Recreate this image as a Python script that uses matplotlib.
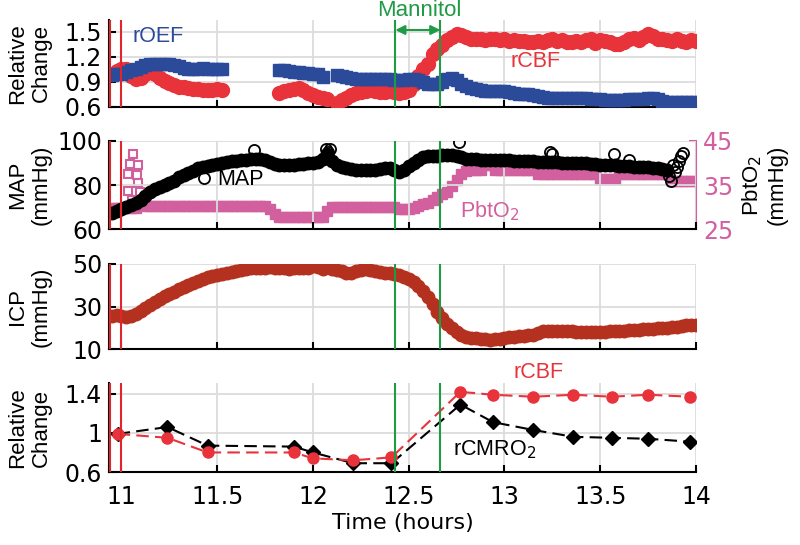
import numpy as np
import matplotlib
matplotlib.use('Agg')
import matplotlib.pyplot as plt

# sample times (hours) for the monitored signals, every 0.025 h
t = np.linspace(10.95, 14.0, 123)
nan = np.nan

roef = [0.98, 0.99, 1.00, 1.02, 1.04, 1.06, 1.08, 1.10, 1.12, 1.12,
        1.11, 1.12, 1.11, 1.10, 1.09, 1.07, 1.06, 1.05, 1.06, 1.07,
        1.06, 1.06, 1.05, 1.05, nan, nan, nan, nan, nan, nan,
        nan, nan, nan, nan, nan, 1.04, 1.04, 1.03, 1.02, 1.02,
        1.01, 1.01, 1.00, 0.99, 0.96, nan, nan, 0.98, 0.97, 0.96,
        0.95, 0.94, 0.93, 0.93, 0.93, 0.93, 0.93, 0.93, 0.93, 0.92,
        0.92, 0.92, 0.93, 0.93, 0.92, 0.90, 0.88, 0.87, 0.87, 0.90,
        0.93, 0.95, 0.92, 0.88, 0.85, 0.83, 0.81, 0.80, 0.79, 0.79,
        0.79, 0.79, 0.79, 0.78, 0.77, 0.76, 0.76, 0.75, 0.74, 0.73,
        0.72, 0.71, 0.71, 0.71, 0.71, 0.71, 0.71, 0.71, 0.71, 0.71,
        0.70, 0.69, 0.69, 0.68, 0.68, 0.68, 0.68, 0.68, 0.69, 0.69,
        0.69, 0.70, 0.71, 0.71, 0.70, 0.67, 0.66, 0.66, 0.66, 0.66,
        0.66, 0.66, 0.66]

rcbf = [0.99, 1.03, 1.06, 1.05, 0.97, 0.93, 0.95, 0.99, 1.02, 0.99,
        0.95, 0.91, 0.89, 0.86, 0.84, 0.84, 0.83, 0.82, 0.82, 0.80,
        0.80, 0.80, 0.81, 0.80, nan, nan, nan, nan, nan, nan,
        nan, nan, nan, nan, nan, 0.77, 0.79, 0.80, 0.82, 0.83,
        0.80, 0.77, 0.74, 0.72, 0.71, 0.70, nan, 0.65, 0.68, 0.71,
        0.74, 0.77, 0.78, 0.79, 0.80, 0.79, 0.78, 0.78, 0.79, 0.78,
        0.77, 0.78, 0.80, 0.88, 0.97, 1.05, 1.12, 1.24, 1.30, 1.34,
        1.40, 1.44, 1.47, 1.46, 1.44, 1.42, 1.41, 1.42, 1.40, 1.41,
        1.41, 1.40, 1.41, 1.39, 1.40, 1.39, 1.39, 1.38, 1.38, 1.39,
        1.38, 1.40, 1.41, 1.39, 1.40, 1.38, 1.38, 1.39, 1.38, 1.40,
        1.41, 1.37, 1.40, 1.39, 1.38, 1.36, 1.36, 1.38, 1.41, 1.43,
        1.40, 1.44, 1.47, 1.45, 1.41, 1.41, 1.40, 1.39, 1.41, 1.39,
        1.38, 1.40, 1.39]

map_mmhg = [67.5, 68, 69, 70, 71, 72, 73, 75, 77, 78,
            79, 80, 81, 82, 83.5, 84.5, 85.5, 86.5, 87.5, 88,
            88.5, 89, 89.5, 90, 90.5, 90.8, 91, 91.3, 91.5, 91.8,
            92, 92, 91.5, 90.5, 89.5, 89, 89, 89, 89.2, 89.5,
            89.7, 90, 90.2, 90.5, 92, 94, 91, 89, 88, 87.5,
            87.2, 87, 87, 86.8, 86.8, 87, 87.2, 87.5, 87.7, 87,
            86, 87, 88.5, 90, 91.5, 92.5, 93, 93, 93.2, 93.5,
            93.5, 93.5, 93, 92.5, 92, 92, 91.8, 91.5, 91.5, 91.5,
            91.4, 91.4, 91.3, 91.2, 91, 91, 91, 90.8, 90.7, 90.6,
            90.5, 90.5, 90.5, 90.3, 90.2, 90.2, 90, 90, 90, 89.8,
            89.6, 89.5, 89.3, 89.2, 89, 89, 88.8, 88.6, 88.5, 88.3,
            88.2, 88, 88, 87.8, 87.5, 87.2, 87, nan, nan, nan,
            nan, nan, nan]

# scattered MAP readings
map_out_t = [11.43, 11.69, 12.07, 12.08, 12.09, 12.76, 13.24, 13.25, 13.57, 13.65,
             13.86, 13.87, 13.88, 13.89, 13.90, 13.91, 13.92, 13.93]
map_out_v = [83, 96, 96.5, 95, 96.5, 99.5, 95, 94, 94, 91.5,
             84, 82, 89, 86, 88, 91, 93, 94.5]

pbto2 = [29.8, 29.8, 29.8, 29.8, 29.8, 29.8, 30.5, 30.2, 30.2, 30.2,
         30.2, 30.2, 30.2, 30.2, 30.2, 30.2, 30.2, 30.2, 30.2, 30.2,
         30.2, 30.2, 30.2, 30.2, 30.2, 30.2, 30.2, 30.2, 30.2, 30.2,
         30.2, 30.2, 30.2, 29.5, 28.5, 27.7, 27.7, 27.7, 27.7, 27.7,
         27.7, 27.7, 27.7, 27.7, 27.7, 29.0, 30.0, 30.0, 30.0, 30.0,
         30.0, 30.0, 30.0, 30.0, 30.0, 30.0, 30.0, 30.0, 30.0, 30.0,
         29.5, 29.5, 29.5, 29.8, 30.2, 30.6, 31.0, 31.7, 32.3, 32.9,
         33.5, 34.8, 36.2, 37.4, 38.2, 38.4, 38.4, 38.4, 39.5, 39.5,
         38.4, 38.4, 38.4, 38.4, 38.4, 38.4, 38.4, 38.4, 38.4, 37.4,
         37.4, 37.4, 37.4, 37.4, 37.4, 37.4, 37.4, 37.4, 37.4, 37.4,
         37.4, 37.4, 36.4, 36.4, 36.4, 36.4, 37.6, 37.6, 37.6, 37.6,
         37.6, 37.6, 37.6, 37.6, 37.6, 37.6, 37.6, 36.0, 36.0, 36.0,
         36.0, 36.0, 36.0]

# early PbtO2 spike
pb_spike_t = [11.06, 11.045, 11.085, 11.035, 11.08, 11.085, 11.035, 11.095, 11.055]
pb_spike_v = [42.0, 39.8, 39.5, 37.5, 37.3, 35.4, 33.6, 33.4, 31.6]

icp = [25.5, 25.8, 25.5, 25.0, 25.5, 26.5, 27.8, 29.3, 30.7, 32.2,
       33.6, 34.8, 35.8, 37.0, 38.2, 39.3, 40.3, 41.2, 42.2, 43.0,
       43.8, 44.5, 45.0, 45.5, 46.0, 46.3, 46.8, 47.3, 47.7, 48.0,
       48.2, 48.0, 48.2, 48.5, 48.0, 48.3, 48.0, 47.8, 48.0, 48.2,
       48.0, 48.3, 49.0, 48.5, 47.5, 48.8, 47.5, 47.0, 46.5, 46.0,
       45.8, 46.5, 47.0, 47.5, 47.0, 46.5, 46.2, 46.0, 46.0, 45.5,
       45.0, 44.0, 42.8, 41.5, 39.8, 37.5, 34.5, 31.0, 27.5, 24.5,
       22.0, 20.0, 18.0, 16.5, 15.5, 15.0, 15.0, 14.8, 14.5, 14.3,
       14.5, 14.8, 15.2, 15.5, 15.8, 16.0, 16.3, 16.5, 16.7, 17.5,
       18.3, 18.5, 18.5, 18.4, 18.3, 18.4, 18.3, 18.2, 18.2, 18.1,
       18.0, 18.1, 18.0, 18.2, 18.4, 18.5, 18.6, 18.7, 18.8, 19.0,
       19.1, 19.2, 19.4, 19.6, 19.7, 19.9, 20.1, 20.3, 20.5, 20.8,
       21.1, 21.3, 21.3]

# DCS measurement points
dcs_t = [10.98, 11.24, 11.45, 11.90, 12.00, 12.21, 12.41, 12.77, 12.94, 13.15, 13.36, 13.56, 13.75, 13.97]
dcs_rcbf = [0.99, 0.95, 0.80, 0.80, 0.74, 0.72, 0.75, 1.42, 1.39, 1.37, 1.39, 1.37, 1.39, 1.37]
dcs_rcmro2 = [0.99, 1.06, 0.87, 0.86, 0.80, 0.69, 0.69, 1.29, 1.11, 1.03, 0.96, 0.95, 0.94, 0.91]

events_red = [10.942, 11.0]
events_green = [12.43, 12.665]

RED = '#e8333b'
BLUE = '#2c4a9a'
PINK = '#d2609f'
ICPC = '#b5311f'
VRED = '#e0262b'
GREEN = '#1f9a45'

LAB = 'Liberation Sans'
plt.rcParams['font.family'] = ['DejaVu Sans']
plt.rcParams['font.size'] = 17


def style(ax, yticks, ylim):
    ax.set_xlim(10.935, 14.0)
    ax.set_ylim(ylim)
    ax.set_xticks([11, 11.5, 12, 12.5, 13, 13.5, 14])
    ax.set_yticks(yticks)
    ax.grid(True, color='#dcdcdc', linewidth=1.3)
    ax.set_axisbelow(True)
    for s in ['top', 'right']:
        ax.spines[s].set_visible(False)
    for s in ['left', 'bottom']:
        ax.spines[s].set_linewidth(1.5)
    ax.tick_params(direction='in', length=5, width=1.5, pad=5, labelsize=17)
    for x in events_red:
        ax.axvline(x, color=VRED, lw=1.5, zorder=5)
    for x in events_green:
        ax.axvline(x, color=GREEN, lw=1.5, zorder=5)


def ylab(ax, text):
    ax.set_ylabel(text, family=LAB, fontsize=16, linespacing=1.2)
    ax.yaxis.set_label_coords(-0.097, 0.5)


fig = plt.figure(figsize=(8, 5.45), dpi=100)
L, W = 0.13625, 0.73375
ax1 = fig.add_axes([L, 0.8037, W, 0.1596])
ax2 = fig.add_axes([L, 0.5798, W, 0.1615])
ax3 = fig.add_axes([L, 0.3596, W, 0.1560])
ax4 = fig.add_axes([L, 0.1339, W, 0.1633])

# panel 1: relative change of rCBF and rOEF
style(ax1, [0.6, 0.9, 1.2, 1.5], (0.6, 1.644))
ax1.plot(t, rcbf, 'o', color=RED, ms=10, mec=RED, zorder=3)
ax1.plot(t, roef, 's', color=BLUE, ms=8, mec=BLUE, zorder=3)
ax1.set_xticklabels([])
ylab(ax1, 'Relative\nChange')
ax1.text(11.06, 1.44, 'rOEF', color=BLUE, family=LAB, fontsize=15.5, va='center')
ax1.text(13.03, 1.14, 'rCBF', color=RED, family=LAB, fontsize=15.5, va='center')
ax1.text(12.557, 1.76, 'Mannitol', color=GREEN, family=LAB, fontsize=16, ha='center',
         va='center', clip_on=False)
ax1.annotate('', xy=(12.43, 1.524), xytext=(12.665, 1.524),
             arrowprops=dict(arrowstyle='<|-|>', color=GREEN, lw=1.5, mutation_scale=14,
                             shrinkA=0, shrinkB=0))

# panel 2: MAP and PbtO2
style(ax2, [60, 80, 100], (60, 100))
ax2.plot(t, map_mmhg, 'o', color='black', ms=9, zorder=3)
ax2.plot(map_out_t, map_out_v, 'o', mfc='none', mec='black', ms=8, mew=1.3, zorder=3)
ax2.set_xticklabels([])
ylab(ax2, 'MAP\n(mmHg)')
ax2.text(11.5, 82.3, 'MAP', family=LAB, fontsize=15.5, va='center')
ax2b = ax2.twinx()
ax2b.set_position(ax2.get_position())
ax2b.plot(t, pbto2, 's', color=PINK, ms=7.5, mec=PINK, zorder=2)
ax2b.plot(pb_spike_t, pb_spike_v, 's', mfc='none', mec=PINK, ms=6, mew=1.5)
ax2b.set_ylim(25, 45)
ax2b.set_yticks([25, 35, 45])
for s in ['top', 'left', 'bottom']:
    ax2b.spines[s].set_visible(False)
ax2b.spines['right'].set_color(PINK)
ax2b.spines['right'].set_linewidth(1.5)
ax2b.tick_params(direction='in', length=5, width=1.5, pad=5, colors=PINK, labelsize=17)
ax2b.set_ylabel('PbtO$_2$\n(mmHg)', family=LAB, fontsize=16, linespacing=1.2, color='black')
ax2b.yaxis.set_label_coords(1.075, 0.5)
ax2.text(12.77, 68.2, 'PbtO$_2$', color=PINK, family=LAB, fontsize=15.5, va='center')
ax2.set_zorder(ax2b.get_zorder() + 1)
ax2.patch.set_visible(False)

# panel 3: ICP
style(ax3, [10, 30, 50], (10, 50))
ax3.plot(t, icp, 'o', color=ICPC, ms=9, mec=ICPC, zorder=3)
ax3.set_xticklabels([])
ylab(ax3, 'ICP\n(mmHg)')

# panel 4: DCS rCBF and rCMRO2
style(ax4, [0.6, 1.0, 1.4], (0.6, 1.51))
ax4.set_yticklabels(['0.6', '1', '1.4'])
ax4.plot(dcs_t, dcs_rcmro2, '--D', color='black', ms=7.5, lw=1.5, dashes=(6, 3), zorder=3)
ax4.plot(dcs_t, dcs_rcbf, '--o', color=RED, ms=8, lw=1.5, dashes=(6, 3), zorder=4)
ax4.set_xticklabels(['11', '11.5', '12', '12.5', '13', '13.5', '14'])
ax4.tick_params(axis='x', pad=9)
ax4.set_xlabel('Time (hours)', fontsize=16, labelpad=3)
ylab(ax4, 'Relative\nChange')
ax4.text(12.73, 0.826, 'rCMRO$_2$', family=LAB, fontsize=15.5, va='center')
ax4.text(13.18, 1.615, 'rCBF', color=RED, family=LAB, fontsize=15.5, ha='center',
         va='center', clip_on=False)

fig.savefig('out.png', dpi=100)
